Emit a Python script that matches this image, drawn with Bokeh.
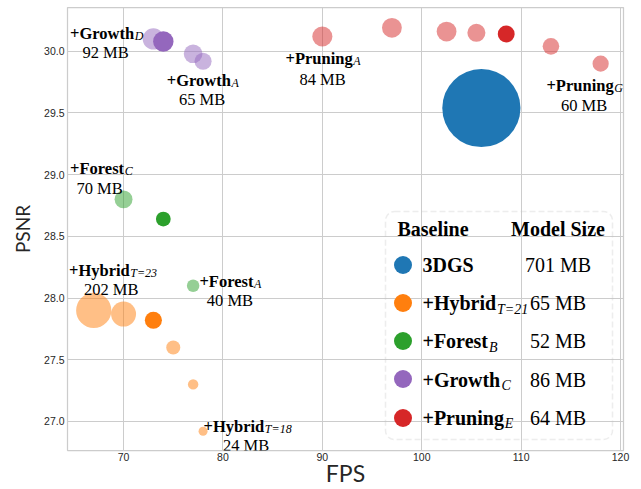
from bokeh.plotting import figure
from bokeh.models import (ColumnDataSource, Legend, LegendItem, Label, BoxAnnotation,
                          FixedTicker, PrintfTickFormatter)
from bokeh.core.properties import value
from bokeh.embed import file_html
from bokeh.resources import INLINE

# ---------------- data ----------------
x_ticks = [70, 80, 90, 100, 110, 120]
y_ticks = [27.0, 27.5, 28.0, 28.5, 29.0, 29.5, 30.0]

blue_fps = [106.0]
blue_psnr = [29.54]
blue_mb = [701]

orange_fps = [67, 70, 73, 75, 77, 78]
orange_psnr = [27.90, 27.87, 27.82, 27.60, 27.30, 26.92]
orange_mb = [202, 118, 65, 48, 30, 24]

green_fps = [70, 74, 77]
green_psnr = [28.80, 28.64, 28.10]
green_mb = [70, 52, 40]

purple_fps = [73, 74, 77, 78]
purple_psnr = [30.10, 30.08, 29.98, 29.92]
purple_mb = [92, 86, 75, 65]

red_fps = [90, 97, 102.5, 105.5, 108.5, 113, 118]
red_psnr = [30.12, 30.19, 30.16, 30.15, 30.14, 30.04, 29.90]
red_mb = [84, 82, 82, 71, 64, 62, 60]

legend_names = ["3DGS", "+Hybrid", "+Forest", "+Growth", "+Pruning"]
legend_subs = ["", "T=21", "B", "C", "E"]
legend_sizes = ["701 MB", "65 MB", "52 MB", "86 MB", "64 MB"]

# annotations: (group, point index, bold name, subscript, size text)
ann_group = ["purple", "purple", "green", "red", "red", "orange", "green", "orange"]
ann_index = [0, 3, 0, 0, 6, 0, 2, 5]
ann_name = ["+Growth", "+Growth", "+Forest", "+Pruning", "+Pruning", "+Hybrid", "+Forest", "+Hybrid"]
ann_sub = ["D", "A", "C", "A", "G", "T=23", "A", "T=18"]
ann_size = ["92 MB", "65 MB", "70 MB", "84 MB", "60 MB", "202 MB", "40 MB", "24 MB"]

# ---------------- styling / layout ----------------
colors = {"blue": "#1f77b4", "orange": "#ff7f0e", "green": "#2ca02c",
          "purple": "#9467bd", "red": "#d62728"}
highlight = {"blue": 0, "orange": 2, "green": 1, "purple": 1, "red": 4}
groups = {
    "blue": (blue_fps, blue_psnr, blue_mb),
    "orange": (orange_fps, orange_psnr, orange_mb),
    "green": (green_fps, green_psnr, green_mb),
    "purple": (purple_fps, purple_psnr, purple_mb),
    "red": (red_fps, red_psnr, red_mb),
}
order = ["blue", "orange", "green", "purple", "red"]

# pixel offsets of annotation parts relative to their point (screen, +down)
ann_dx_split = [-19.3, 27.8, 0.5, 30.3, 13.0, 36.0, 60.3, 61.2]
ann_dy1 = [-5.1, 19.5, -30.4, 22.4, 22.0, -39.9, -4.6, -4.9]
ann_dx2 = [-47.8, -1.0, -24.0, 0.3, -16.5, 17.5, 36.8, 43.0]
ann_dy2 = [13.6, 38.5, -10.4, 42.8, 42.3, -20.9, 14.7, 14.1]

SERIF = "Liberation Serif"
TXT = "#262626"
FRAME_LEFT = 67
FRAME_TOP = 7
FRAME_BOTTOM = 449


def fx(px):
    return px - FRAME_LEFT


def fy(py):
    return FRAME_BOTTOM - py


p = figure(width=633, height=489,
           x_range=(64.36, 120.3),
           y_range=(27 - (FRAME_BOTTOM - 420) / 123.1, 30 + (50.7 - FRAME_TOP) / 123.1),
           output_backend="svg", toolbar_location=None, title=None,
           min_border_left=FRAME_LEFT, min_border_right=10, min_border_top=FRAME_TOP,
           min_border_bottom=39,
           background_fill_color="white", border_fill_color="white")
p.outline_line_color = "#cccccc"
p.outline_line_width = 1.25

for ax, ticks, fmt, so in ((p.xaxis, x_ticks, "%d", 2), (p.yaxis, y_ticks, "%.1f", 3)):
    ax.ticker = FixedTicker(ticks=ticks)
    ax.formatter = PrintfTickFormatter(format=fmt)
    ax.axis_line_color = None
    ax.major_tick_line_color = None
    ax.minor_tick_line_color = None
    ax.major_tick_out = 0
    ax.major_tick_in = 0
    ax.major_label_standoff = so
    ax.major_label_text_font = "Liberation Sans"
    ax.major_label_text_font_size = "10.5px"
    ax.major_label_text_color = TXT
    ax.axis_label_text_font = "Lato"
    ax.axis_label_text_font_style = "normal"
    ax.axis_label_text_color = TXT

p.xaxis.axis_label = "FPS"
p.xaxis.axis_label_text_font_size = "23px"
p.xaxis.axis_label_standoff = -5
p.yaxis.axis_label = "PSNR"
p.yaxis.axis_label_text_font_size = "19px"
p.yaxis.axis_label_standoff = 7

for g in (p.xgrid, p.ygrid):
    g.grid_line_color = "#cccccc"
    g.grid_line_width = 1

renderers = {}
for key in order:
    fps, psnr, mb = groups[key]
    hl = highlight[key]
    src = ColumnDataSource(dict(
        x=fps, y=psnr,
        size=[1.18 * m ** 0.64 for m in mb],
        alpha=[1.0 if i == hl else 0.5 for i in range(len(fps))],
    ))
    renderers[key] = p.scatter("x", "y", size="size", fill_color=colors[key],
                               fill_alpha="alpha", line_color=None, source=src)

# annotations next to points
ax_, ay_ = [], []
for g, i in zip(ann_group, ann_index):
    ax_.append(groups[g][0][i])
    ay_.append(groups[g][1][i])
ann = ColumnDataSource(dict(
    x=ax_, y=ay_, name=ann_name, sub=ann_sub, size=ann_size,
    dxs=ann_dx_split, dxs2=[d + 0.6 for d in ann_dx_split],
    dy1=ann_dy1, dy1s=[d + 2.5 for d in ann_dy1],
    dx2=ann_dx2, dy2=ann_dy2,
))
p.text("x", "y", text="name", x_offset="dxs", y_offset="dy1", source=ann,
       text_align="right", text_baseline="alphabetic", text_font=value(SERIF),
       text_font_style="bold", text_font_size="16.5px", text_color="black")
p.text("x", "y", text="sub", x_offset="dxs2", y_offset="dy1s", source=ann,
       text_align="left", text_baseline="alphabetic", text_font=value(SERIF),
       text_font_style="italic", text_font_size="12px", text_color="black")
p.text("x", "y", text="size", x_offset="dx2", y_offset="dy2", source=ann,
       text_align="center", text_baseline="alphabetic", text_font=value(SERIF),
       text_font_style="normal", text_font_size="16.5px", text_color="black")

# legend markers: one single-item legend per row (exact row pitch)
row_center = [263 + 38.25 * k for k in range(5)]
for k, key in enumerate(order):
    leg = Legend(items=[LegendItem(label=value(" "), renderers=[renderers[key]],
                                   index=highlight[key])],
                 location=(fx(379.5), fy(row_center[k] + 22.5)),
                 padding=0, spacing=0, margin=0, glyph_width=45, glyph_height=45,
                 border_line_color=None, background_fill_alpha=0,
                 label_text_font_size="8px", label_height=10)
    p.add_layout(leg)

# legend frame
p.add_layout(BoxAnnotation(left=fx(385), right=fx(612), top=fy(210), bottom=fy(438),
                           left_units="screen", right_units="screen",
                           top_units="screen", bottom_units="screen",
                           fill_color=None, line_color="#c4c4c4", line_width=1.5,
                           line_dash="6 3", border_radius=9))


def lab(px, baseline_py, text, size, style="normal", align="left"):
    # text centred on its ascent/descent box -> baseline lies 0.3375 em below centre
    p.add_layout(Label(x=fx(px), y=fy(baseline_py - 0.3375 * size),
                       x_units="screen", y_units="screen", text=text,
                       text_font=SERIF, text_font_size=f"{size}px", text_font_style=style,
                       text_align=align, text_baseline="middle", text_color="black"))


lab(397, 234, "Baseline", 20, "bold")
lab(557.5, 234, "Model Size", 20, "bold", "center")
name_w = [0, 73.6, 65.8, 78.1, 81.4]   # advance widths of bold names at 20px
for k in range(5):
    base = row_center[k] + 7
    lab(422, base, legend_names[k], 20, "bold")
    if legend_subs[k]:
        lab(422 + name_w[k] + 0.8, base + 4, legend_subs[k], 14, "italic")
    lab(557.5, base, legend_sizes[k], 20, "normal", "center")

open("out.html", "w").write(file_html(p, INLINE))
